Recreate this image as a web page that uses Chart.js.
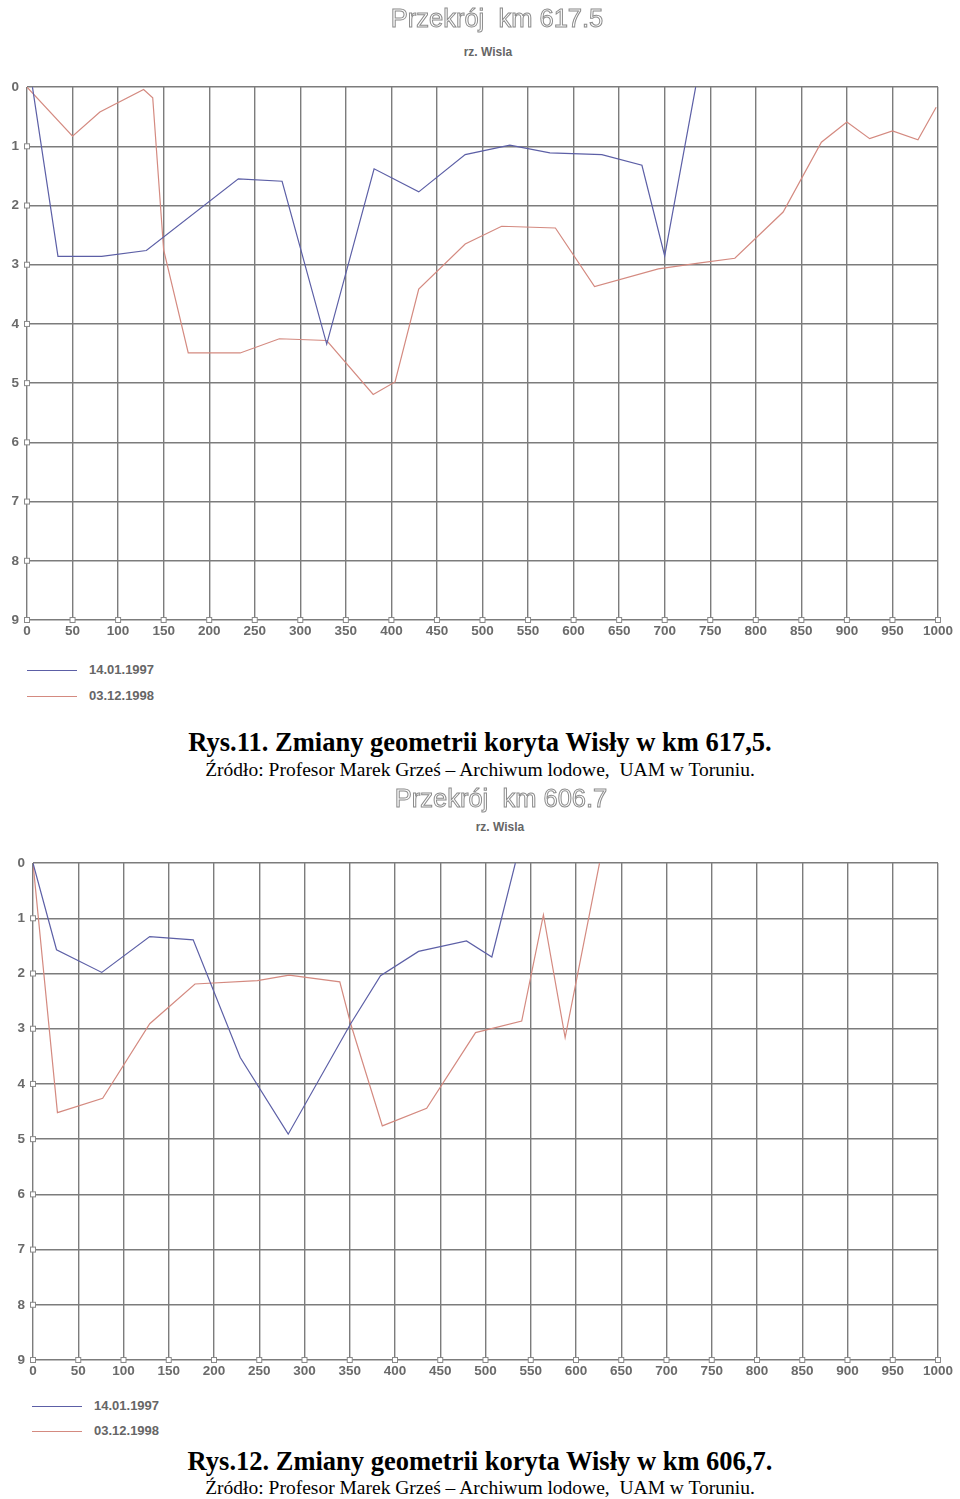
<!DOCTYPE html>
<html>
<head>
<meta charset="utf-8">
<script src="https://cdn.jsdelivr.net/npm/chart.js@4"></script>
<style>
  body { margin: 0; background: #fff; width: 960px; height: 1499px; position: relative; overflow: hidden; }
  .abs { position: absolute; }
  .sub { left: 0; width: 960px; text-align: center; font: bold 12px "Liberation Sans", Arial, sans-serif; color: #666; }
  .wrap { left: 0; width: 960px; }
  .leg { font: bold 13px "Liberation Sans", Arial, sans-serif; color: #666; }
  .leg .ln { position: absolute; width: 50px; height: 0; border-top: 1px solid; }
  .cap1 { left: 0; width: 960px; text-align: center; font: bold 26.5px "Liberation Serif", "Times New Roman", serif; color: #000; }
  .cap2 { left: 0; width: 960px; text-align: center; font: 19.5px "Liberation Serif", "Times New Roman", serif; color: #000; }
</style>
</head>
<body>
<canvas class="abs" id="t617" width="960" height="40" style="top:0; left:0;"></canvas>
<div class="abs sub" style="top:45px; padding-left:16px; box-sizing:border-box;">rz. Wisla</div>
<div class="abs wrap" style="top:71px; height:579px;"><canvas id="c617"></canvas></div>
<div class="abs leg" id="leg617" style="top:0; left:0;"></div>
<div class="abs cap1" style="top:727px;">Rys.11. Zmiany geometrii koryta Wisły w km 617,5.</div>
<div class="abs cap2" style="top:759px;">Źródło: Profesor Marek Grześ – Archiwum lodowe,&nbsp; UAM w Toruniu.</div>

<canvas class="abs" id="t606" width="960" height="40" style="top:780px; left:0;"></canvas>
<div class="abs sub" style="top:820px; padding-left:40px; box-sizing:border-box;">rz. Wisla</div>
<div class="abs wrap" style="top:847px; height:543px;"><canvas id="c606"></canvas></div>
<div class="abs leg" id="leg606" style="top:0; left:0;"></div>
<div class="abs cap1" style="top:1446px;">Rys.12. Zmiany geometrii koryta Wisły w km 606,7.</div>
<div class="abs cap2" style="top:1477px;">Źródło: Profesor Marek Grześ – Archiwum lodowe,&nbsp; UAM w Toruniu.</div>

<script>
  // series labels
  const seriesNames = ["14.01.1997", "03.12.1998"];

  // km 617.5 - 14.01.1997
  const dist617a = [6, 34, 82, 131, 232, 280, 329, 381, 430, 481, 530, 574, 631, 675, 700, 734];
  const depth617a = [0, 2.86, 2.86, 2.76, 1.55, 1.59, 4.34, 1.38, 1.77, 1.14, 0.98, 1.11, 1.14, 1.32, 2.85, 0];
  // km 617.5 - 03.12.1998
  const dist617b = [0, 50, 80, 128, 138, 150, 177, 234, 277, 329, 380, 404, 430, 481, 521, 580, 623, 693, 739, 777, 830, 872, 900, 925, 950, 978, 998];
  const depth617b = [0, 0.83, 0.42, 0.04, 0.18, 2.75, 4.49, 4.49, 4.25, 4.28, 5.19, 4.98, 3.41, 2.65, 2.35, 2.38, 3.37, 3.07, 2.97, 2.89, 2.11, 0.93, 0.59, 0.87, 0.74, 0.89, 0.34];

  // km 606.7 - 14.01.1997
  const dist606a = [0, 26, 76, 129, 177, 229, 282, 351, 384, 426, 479, 507, 533];
  const depth606a = [0, 1.57, 1.98, 1.33, 1.39, 3.52, 4.91, 2.91, 2.04, 1.60, 1.41, 1.70, 0];
  // km 606.7 - 03.12.1998
  const dist606b = [0, 27, 77, 129, 179, 248, 283, 339, 351, 386, 435, 489, 540, 564, 588, 626];
  const depth606b = [0, 4.52, 4.26, 2.91, 2.19, 2.13, 2.03, 2.15, 2.91, 4.76, 4.44, 3.07, 2.86, 0.94, 3.16, 0];

  // axes
  const xMin = 0, xMax = 1000, xStep = 50;
  const yMin = 0, yMax = 9, yStep = 1;

  const colors = ["#5c5fa6", "#d48a80"];
  const labelFont = { family: "'Liberation Sans', Arial, sans-serif", size: 13.5, weight: "bold" };

  const zip = (xs, ys) => xs.map((x, i) => ({ x, y: ys[i] }));

  // outlined header text
  function drawTitle(id, text, cx, cy) {
    const ctx = document.getElementById(id).getContext("2d");
    ctx.font = "25.5px 'Liberation Sans', Arial, sans-serif";
    ctx.textAlign = "center";
    ctx.textBaseline = "middle";
    ctx.strokeStyle = "#8c8c8c";
    ctx.lineWidth = 1;
    ctx.strokeText(text, cx, cy);
  }

  const tickSquares = {
    id: "tickSquares",
    afterDraw(chart) {
      const { ctx, scales: { x, y }, chartArea } = chart;
      ctx.save();
      ctx.fillStyle = "#fff";
      ctx.strokeStyle = "#8a8a8a";
      ctx.lineWidth = 1;
      const sq = (px, py) => { ctx.fillRect(px - 2.5, py - 2.5, 5, 5); ctx.strokeRect(px - 2.5, py - 2.5, 5, 5); };
      y.ticks.forEach((t) => { if (t.value > 0) sq(chartArea.left, y.getPixelForValue(t.value)); });
      x.ticks.forEach((t) => sq(x.getPixelForValue(t.value), chartArea.bottom));
      ctx.restore();
    }
  };

  function makeChart(id, yWidth, setA, setB) {
    return new Chart(document.getElementById(id), {
      type: "line",
      data: {
        datasets: [
          { label: seriesNames[0], data: setA, borderColor: colors[0], borderWidth: 1.2 },
          { label: seriesNames[1], data: setB, borderColor: colors[1], borderWidth: 1.2 }
        ]
      },
      options: {
        responsive: true,
        maintainAspectRatio: false,
        animation: false,
        elements: { point: { radius: 0 }, line: { tension: 0 } },
        layout: { padding: { top: 4, right: 22, left: 0, bottom: 0 } },
        plugins: { legend: { display: false }, tooltip: { enabled: false } },
        scales: {
          x: {
            type: "linear", min: xMin, max: xMax,
            ticks: { stepSize: xStep, font: labelFont, color: "#6a6a6a", padding: 3, maxRotation: 0, autoSkip: false, callback: (v) => String(v) },
            grid: { color: "#7c7c7c", lineWidth: 1.4, drawTicks: false },
            border: { display: false },
            afterFit: (scale) => { scale.height = 30; }
          },
          y: {
            type: "linear", min: yMin, max: yMax, reverse: true,
            ticks: { stepSize: yStep, font: labelFont, color: "#6a6a6a", padding: 8 },
            grid: { color: "#7c7c7c", lineWidth: 1.4, drawTicks: false },
            border: { display: false },
            afterFit: (scale) => { scale.width = yWidth; }
          }
        }
      },
      plugins: [tickSquares]
    });
  }

  function makeLegend(id, left, top1, top2) {
    const el = document.getElementById(id);
    el.innerHTML = [top1, top2].map((t, i) =>
      `<div class="ln" style="left:${left}px; top:${t}px; border-color:${colors[i]}"></div>` +
      `<div style="position:absolute; left:${left + 62}px; top:${t - 8}px; white-space:nowrap">${seriesNames[i]}</div>`
    ).join("");
  }

  drawTitle("t617", "Przekrój  km 617.5", 497, 20);
  drawTitle("t606", "Przekrój  km 606.7", 501, 20);
  makeChart("c617", 27, zip(dist617a, depth617a), zip(dist617b, depth617b));
  makeChart("c606", 33, zip(dist606a, depth606a), zip(dist606b, depth606b));
  makeLegend("leg617", 27, 670, 696);
  makeLegend("leg606", 32, 1406, 1431);
</script>
</body>
</html>
